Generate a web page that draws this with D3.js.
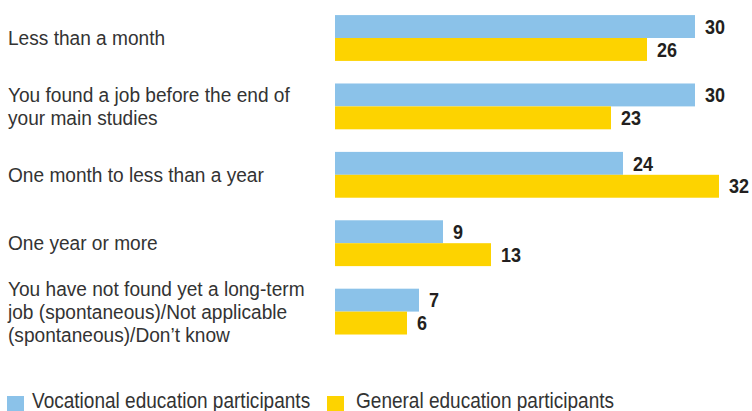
<!DOCTYPE html>
<html>
<head>
<meta charset="utf-8">
<script src="https://cdn.jsdelivr.net/npm/d3@7"></script>
<style>
  body { margin: 0; background: #fff; }
  svg { display: block; font-family: "Liberation Sans Narrow", "Liberation Sans", Arial, sans-serif; }
</style>
</head>
<body>
<div id="chart"></div>
<script>
// categories (each one split into display lines)
const categories = [
    ["Less than a month"],
    ["You found a job before the end of", "your main studies"],
    ["One month to less than a year"],
    ["One year or more"],
    ["You have not found yet a long-term", "job (spontaneous)/Not applicable", "(spontaneous)/Don\u2019t know"]
];
const seriesNames = ["Vocational education participants", "General education participants"];
const vocational = [30, 30, 24, 9, 7];
const general = [26, 23, 32, 13, 6];
const colors = ["#8BC2E9", "#FDD300"];

const width = 752, height = 411;
const squeeze = 0.91; // condensed look

const svg = d3.select("#chart")
    .append("svg")
    .attr("width", width)
    .attr("height", height);

const keys = categories.map((c, i) => i);

// vertical band for each category group
const y = d3.scaleBand()
    .domain(keys)
    .range([3.8, 345.8])
    .paddingInner(0.33)
    .paddingOuter(0.165);

const ySub = d3.scaleBand()
    .domain([0, 1])
    .range([0, y.bandwidth()]);

const x = d3.scaleLinear()
    .domain([0, 30])
    .range([335, 695]);

const rows = keys.map(i => ({ i, values: [vocational[i], general[i]] }));

const groups = svg.selectAll("g.group")
    .data(rows)
    .enter().append("g")
    .attr("class", "group")
    .attr("transform", d => `translate(0,${y(d.i)})`);

groups.selectAll("rect")
    .data(d => d.values.map((v, s) => ({ v, s })))
    .enter().append("rect")
    .attr("x", x(0))
    .attr("y", d => ySub(d.s))
    .attr("width", d => x(d.v) - x(0))
    .attr("height", ySub.bandwidth())
    .attr("fill", d => colors[d.s]);

// value labels
groups.selectAll("text.value")
    .data(d => d.values.map((v, s) => ({ v, s })))
    .enter().append("text")
    .attr("class", "value")
    .attr("transform", d => `translate(${x(d.v) + 10},${ySub(d.s) + ySub.bandwidth() / 2}) scale(0.9,1)`)
    .attr("dy", "0.36em")
    .attr("fill", "#231F20")
    .style("font-size", "20px")
    .style("font-weight", "bold")
    .text(d => d.v);

// category labels
const lineH = 23;
svg.selectAll("text.cat")
    .data(rows)
    .enter().append("text")
    .attr("class", "cat")
    .attr("transform", `translate(8,0) scale(${squeeze},1)`)
    .attr("fill", "#333")
    .style("font-size", "21px")
    .each(function(d) {
        const lines = categories[d.i];
        const cy = y(d.i) + y.bandwidth() / 2;
        const top = cy - (lines.length - 1) * lineH / 2;
        d3.select(this).selectAll("tspan")
            .data(lines)
            .enter().append("tspan")
            .attr("x", 0)
            .attr("y", (l, k) => top + k * lineH)
            .attr("dy", "0.33em")
            .text(l => l);
    });

// legend
const legendSq = [7, 327];
const legendTx = [32, 356];
const legend = svg.selectAll("g.legend")
    .data(seriesNames)
    .enter().append("g")
    .attr("class", "legend");

legend.append("rect")
    .attr("x", (d, i) => legendSq[i])
    .attr("y", 396)
    .attr("width", 17)
    .attr("height", 17)
    .attr("fill", (d, i) => colors[i]);

legend.append("text")
    .attr("transform", (d, i) => `translate(${legendTx[i]},408) scale(0.885,1)`)
    .attr("fill", "#333")
    .style("font-size", "21.5px")
    .text(d => d);
</script>
</body>
</html>
